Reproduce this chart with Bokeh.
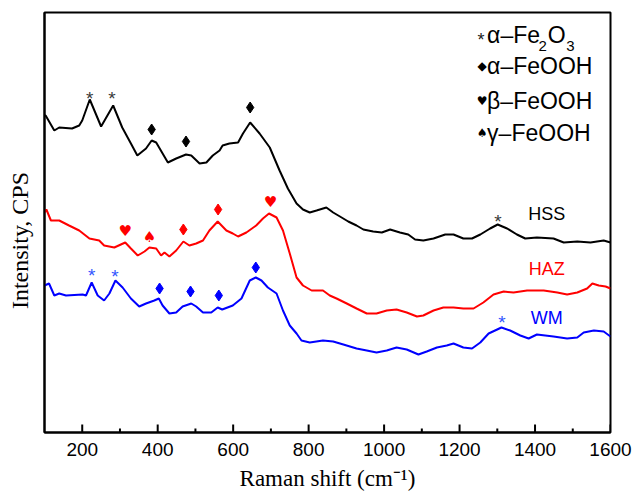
from bokeh.plotting import figure
from bokeh.models import Range1d, FixedTicker
from bokeh.core.properties import value
from bokeh.embed import file_html
from bokeh.resources import INLINE

# Raman spectra (shift in cm^-1, intensity in arbitrary CPS units, offset per sample)
hss_shift = [100, 103, 126, 139, 173, 192, 200, 220, 250, 282, 306, 329, 346, 369, 384,
             396, 427, 449, 475, 489, 511, 529, 546, 564, 572, 590, 613, 626, 645, 670,
             697, 723, 745, 768, 785, 803, 821, 847, 865, 883, 905, 927, 945, 971, 994,
             1016, 1042, 1064, 1082, 1104, 1131, 1162, 1184, 1210, 1233, 1255, 1281, 1301,
             1326, 1352, 1374, 1405, 1449, 1476, 1512, 1547, 1582, 1600]
hss_int = [317, 317, 302, 305, 304, 307, 312, 333, 306, 327, 305, 289, 277, 284, 292,
           290, 270, 274, 278, 277, 269, 270, 277, 282, 287, 289, 290, 299, 310, 299,
           285, 262, 244, 229, 223, 220, 222, 225, 220, 216, 211, 207, 203, 201, 200,
           203, 200, 198, 193, 192, 194, 198, 198, 194, 194, 198, 204, 208,
           204, 198, 194, 195, 194, 190, 191, 190, 192, 190]

haz_shift = [100, 105, 117, 139, 165, 192, 219, 245, 258, 285, 314, 329, 347, 365, 378,
             396, 409, 418, 431, 449, 468, 484, 502, 520, 537, 559, 582, 599, 613, 635,
             661, 679, 695, 715, 732, 750, 768, 785, 808, 838, 856, 874, 901, 927, 954,
             980, 1007, 1033, 1060, 1087, 1104, 1131, 1157, 1184, 1210, 1237, 1263, 1290,
             1317, 1343, 1379, 1423, 1459, 1485, 1512, 1538, 1552, 1569, 1587, 1600]
haz_int = [220, 223, 212, 212, 207, 202, 194, 192, 187, 185, 190, 184, 177, 181, 185,
           184, 177, 180, 176, 182, 191, 187, 189, 192, 202, 211, 202, 199, 196, 200,
           207, 214, 219, 215, 202, 179, 155, 147, 142, 142, 137, 134, 129, 124, 119,
           119, 122, 123, 120, 116, 117, 122, 125, 125, 124, 124, 130, 138,
           141, 140, 142, 142, 140, 138, 140, 144, 149, 147, 146, 144]

wm_shift = [100, 112, 126, 139, 157, 201, 210, 225, 241, 258, 272, 288, 307, 329, 351,
            369, 391, 403, 413, 431, 449, 466, 489, 502, 520, 542, 559, 571, 599, 622,
            644, 660, 675, 692, 715, 732, 750, 768, 781, 803, 838, 865, 892, 927, 954,
            980, 1007, 1033, 1060, 1091, 1113, 1140, 1166, 1184, 1210, 1233, 1255, 1277,
            1311, 1334, 1361, 1383, 1405, 1449, 1485, 1512, 1529, 1556, 1582, 1600]
wm_int = [147, 149, 137, 139, 137, 138, 137, 150, 137, 132, 139, 152, 145, 134, 126,
          129, 132, 134, 127, 119, 120, 126, 129, 126, 120, 120, 125, 123, 127, 134,
          152, 155, 152, 145, 139, 122, 107, 99, 92, 90, 92, 91, 88, 84, 82,
          80, 82, 85, 83, 78, 81, 85, 87, 89, 85, 84, 90, 99,
          105, 102, 97, 94, 98, 96, 94, 95, 100, 102, 101, 96]

# Band assignments marked above each spectrum
hss_fe2o3_x = [220, 279, 1302]
hss_fe2o3_y = [339, 339, 216]
hss_afeooh_x = [384, 475, 645]
hss_afeooh_y = [303, 291, 325]

haz_bfeooh_x = [314, 699]
haz_bfeooh_y = [202, 231]
haz_gfeooh_x = [378]
haz_gfeooh_y = [196]
haz_afeooh_x = [468, 560]
haz_afeooh_y = [203, 223]

wm_fe2o3_x = [225, 287, 1312]
wm_fe2o3_y = [162, 161, 115]
wm_afeooh_x = [405, 487, 562, 660]
wm_afeooh_y = [144, 141, 137, 165]

tick_values = [200, 400, 600, 800, 1000, 1200, 1400, 1600]
minor_tick_values = [300, 500, 700, 900, 1100, 1300, 1500]

sample_names = ["HSS", "HAZ", "WM"]
sample_colors = ["#000000", "#ff0000", "#0000ff"]
sample_label_y = [219, 164, 115]

key_symbols = ["\u25c6", "\u2665", "\u2660"]
key_texts = ["\u03b1\u2013FeOOH", "\u03b2\u2013FeOOH", "\u03b3\u2013FeOOH"]
key_y = [366.5, 332, 300]

SANS = "Liberation Sans"
SERIF = "Liberation Serif"
SYM = "DejaVu Sans"

Y0, Y1 = 0, 420

p = figure(width=635, height=496, x_range=Range1d(100, 1600), y_range=Range1d(Y0, Y1),
           output_backend="svg", toolbar_location=None,
           min_border_left=44, min_border_right=25, min_border_top=12, min_border_bottom=64)
p.grid.visible = False
p.outline_line_color = "black"
p.outline_line_width = 2
p.background_fill_color = "white"
p.border_fill_color = "white"

xa = p.xaxis[0]
xa.ticker = FixedTicker(ticks=tick_values, minor_ticks=minor_tick_values)
xa.major_tick_in = 0
xa.major_tick_out = 0
xa.minor_tick_in = 0
xa.minor_tick_out = 0
xa.axis_line_width = 2
xa.major_label_text_font = SANS
xa.major_label_text_font_size = "19px"
xa.major_label_text_color = "black"
xa.major_label_standoff = 10
xa.axis_label = "Raman shift (cm\u207b\u00b9)"
xa.axis_label_text_font = SERIF
xa.axis_label_text_font_size = "23px"
xa.axis_label_text_font_style = "normal"
xa.axis_label_text_color = "black"
xa.axis_label_standoff = 7

ya = p.yaxis[0]
ya.ticker = FixedTicker(ticks=[])
ya.major_tick_line_color = None
ya.minor_tick_line_color = None
ya.axis_line_width = 2
# trailing no-break spaces push the label a little below the frame centre
ya.axis_label = "Intensity, CPS" + "\u00a0" * 6
ya.axis_label_text_font = SERIF
ya.axis_label_text_font_size = "24px"
ya.axis_label_text_font_style = "normal"
ya.axis_label_text_color = "black"
ya.axis_label_standoff = 12

# inward ticks along the bottom edge (one data unit of intensity = one pixel)
p.segment(x0=tick_values, y0=[Y0] * len(tick_values), x1=tick_values,
          y1=[Y0 + 8] * len(tick_values), line_color="black", line_width=2)
p.segment(x0=minor_tick_values, y0=[Y0] * len(minor_tick_values), x1=minor_tick_values,
          y1=[Y0 + 4] * len(minor_tick_values), line_color="black", line_width=2)

# spectra
for xs, ys, c in [(hss_shift, hss_int, sample_colors[0]),
                  (haz_shift, haz_int, sample_colors[1]),
                  (wm_shift, wm_int, sample_colors[2])]:
    p.line(xs, ys, line_color=c, line_width=2)

# peak markers
def asterisks(xs, ys, color, size="19px"):
    p.text(xs, ys, text=["*"] * len(xs), text_font=value(SANS), text_font_size=value(size),
           text_color=color, text_align="center", text_baseline="middle", y_offset=5)

def diamonds(xs, ys, color):
    p.scatter(xs, ys, marker="diamond", size=11, fill_color=color, line_color=color)

def symbols(xs, ys, glyph, color, size="15px"):
    p.text(xs, ys, text=[glyph] * len(xs), text_font=value(SYM), text_font_size=value(size),
           text_color=color, text_align="center", text_baseline="middle")

asterisks(hss_fe2o3_x, hss_fe2o3_y, "#3a3a3a")
diamonds(hss_afeooh_x, hss_afeooh_y, "#000000")
symbols(haz_bfeooh_x, haz_bfeooh_y, "\u2665", "#ff0000")
symbols(haz_gfeooh_x, haz_gfeooh_y, "\u2660", "#ff0000")
diamonds(haz_afeooh_x, haz_afeooh_y, "#ff0000")
asterisks(wm_fe2o3_x, wm_fe2o3_y, "#3355ff")
diamonds(wm_afeooh_x, wm_afeooh_y, "#0000ff")

# sample names
p.text([1431] * 3, sample_label_y, text=sample_names, text_color=sample_colors,
       text_font=value(SANS), text_font_size=value("18px"),
       text_align="center", text_baseline="middle")

# phase key: alpha-Fe2O3 row built from pieces so the subscripts sit low
asterisks([1257], [398], "#222222", size="18px")
p.text([1273], [398], text=["\u03b1\u2013Fe"], text_font=value(SANS),
       text_font_size=value("23px"), text_color="black",
       text_align="left", text_baseline="middle")
p.text([1409, 1483], [387, 387], text=["2", "3"], text_font=value(SANS),
       text_font_size=value("15px"), text_color="black",
       text_align="left", text_baseline="middle")
p.text([1434], [398], text=["O"], text_font=value(SANS),
       text_font_size=value("23px"), text_color="black",
       text_align="left", text_baseline="middle")

p.text([1260] * 3, key_y, text=key_symbols, text_font=value(SYM),
       text_font_size=value("12px"), text_color="black",
       text_align="center", text_baseline="middle")
p.text([1273] * 3, key_y, text=key_texts, text_font=value(SANS),
       text_font_size=value("23px"), text_color="black",
       text_align="left", text_baseline="middle")

open("out.html", "w").write(file_html(p, INLINE))
